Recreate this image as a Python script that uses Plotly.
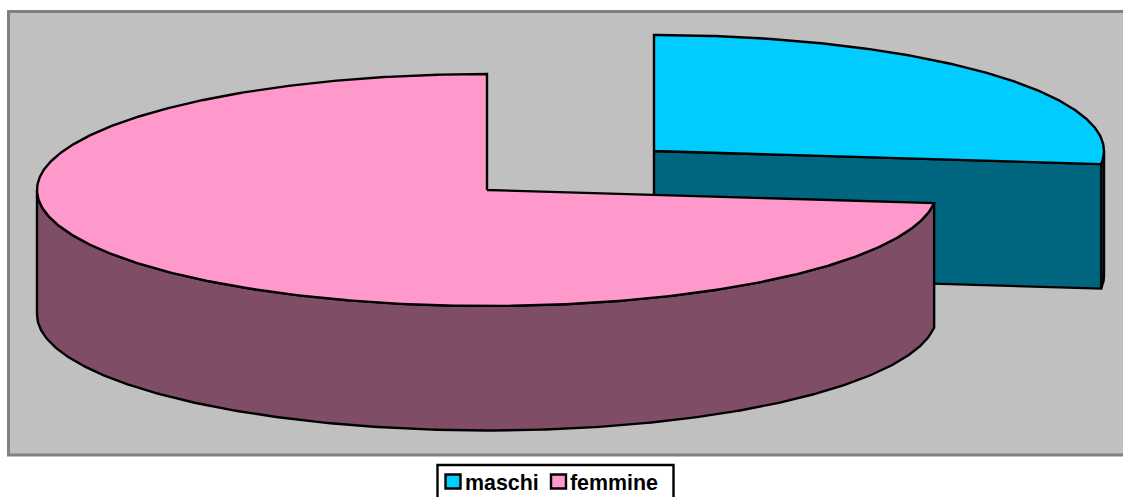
import numpy as np
import plotly.graph_objects as go

categories = ["maschi", "femmine"]
values = [26.8, 73.2]
top_colors = ["#00CCFF", "#FF99CC"]
side_colors = ["#006680", "#804D66"]

W, H = 1123, 497
RX, RY, DEPTH = 450, 116, 124.5
centers = [(654, 151), (487, 190)]
LINE = dict(color="#000000", width=2.4)

sweep = values[0] / sum(values) * 360


def ell(c, deg):
    t = np.radians(deg)
    return c[0] + RX * np.sin(t), c[1] - RY * np.cos(t)


def add(fig, x, y, color, name):
    fig.add_trace(go.Scatter(
        x=list(x), y=list(y), mode="lines", fill="toself", fillcolor=color,
        line=LINE, name=name, showlegend=False, hoverinfo="name",
    ))


fig = go.Figure()

# maschi: outer wall, cut face, then top
c = centers[0]
t = np.linspace(90, sweep, 12)
ax, ay = ell(c, t)
add(fig, [*ax, *ax[::-1], ax[0]], [*ay, *(ay[::-1] + DEPTH), ay[0]],
    side_colors[0], categories[0])
ex, ey = ell(c, sweep)
add(fig, [c[0], ex, ex, c[0], c[0]],
    [c[1], ey, ey + DEPTH, c[1] + DEPTH, c[1]],
    side_colors[0], categories[0])
t = np.linspace(0, sweep, 200)
ax, ay = ell(c, t)
add(fig, [c[0], *ax, c[0]], [c[1], *ay, c[1]], top_colors[0], categories[0])

# femmine: outer wall, then top
c = centers[1]
t = np.linspace(sweep, 270, 300)
ax, ay = ell(c, t)
add(fig, [*ax, *ax[::-1], ax[0]], [*ay, *(ay[::-1] + DEPTH), ay[0]],
    side_colors[1], categories[1])
t = np.linspace(sweep, 360, 500)
ax, ay = ell(c, t)
add(fig, [c[0], *ax, c[0]], [c[1], *ay, c[1]], top_colors[1], categories[1])

# legend: box, swatches and labels
shapes = [
    dict(type="rect", layer="below", x0=8.5, y0=11.5, x1=W + 10, y1=455,
         fillcolor="#C0C0C0", line=dict(color="#808080", width=3)),
    dict(type="rect", layer="above", x0=437.5, y0=465, x1=673.5, y1=H + 10,
         fillcolor="#FFFFFF", line=dict(color="#000000", width=2.4)),
]
annotations = []
swatch_x = [445.5, 551]
label_x = [465, 570]
for name, color, sx, lx in zip(categories, top_colors, swatch_x, label_x):
    shapes.append(dict(type="rect", layer="above", x0=sx, y0=474.5, x1=sx + 15, y1=488.5,
                       fillcolor=color, line=dict(color="#000000", width=2.4)))
    annotations.append(dict(
        x=lx, y=482.5, xref="x", yref="y", text=f"<b>{name}</b>", showarrow=False,
        xanchor="left", yanchor="middle", xshift=-2,
        font=dict(family="Liberation Sans", size=21.4, color="#000000"),
    ))

fig.update_layout(
    width=W, height=H, margin=dict(l=0, r=0, t=0, b=0),
    paper_bgcolor="#FFFFFF", plot_bgcolor="#FFFFFF",
    xaxis=dict(range=[0, W], visible=False, fixedrange=True),
    yaxis=dict(range=[H, 0], visible=False, fixedrange=True),
    font=dict(family="Liberation Sans", color="#000000"),
    showlegend=False,
    shapes=shapes,
    annotations=annotations,
)
fig.write_html("out.html", config=dict(displayModeBar=False),
               post_script="document.body.style.margin='0';document.body.style.overflow='hidden';")
